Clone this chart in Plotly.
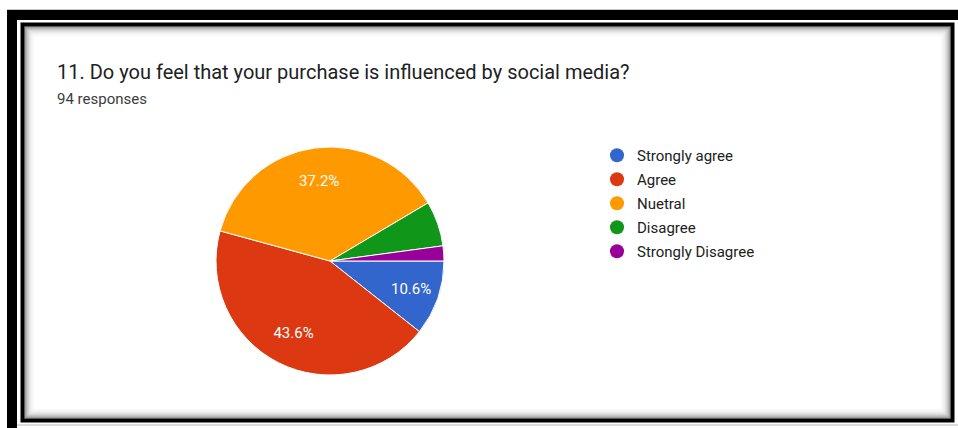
import plotly.graph_objects as go

# Survey answers (94 responses)
categories = ["Strongly agree", "Agree", "Nuetral", "Disagree", "Strongly Disagree"]
counts = [10, 41, 35, 6, 2]
colors = ["#3366cc", "#dc3912", "#ff9900", "#109618", "#990099"]
# only the larger slices carry a percentage label
label_templates = ["%{percent:.1%}", "%{percent:.1%}", "%{percent:.1%}", "", ""]

title_text = "11. Do you feel that your purchase is influenced by social media?"
subtitle_text = "94 responses"

W, H = 958, 428


def px(x):
    return x / W


def py(y):
    return 1 - y / H


pie_domain = dict(x=[px(216), px(444)], y=[py(375), py(147)])

fig = go.Figure()

# coloured slices
fig.add_trace(go.Pie(
    labels=categories,
    values=counts,
    sort=False,
    direction="clockwise",
    rotation=90,
    marker=dict(colors=colors, line=dict(color="white", width=1)),
    textinfo="none",
    hoverinfo="label+percent",
    showlegend=False,
    domain=pie_domain,
))

# transparent ring on top carrying the percentage labels further out
fig.add_trace(go.Pie(
    labels=categories,
    values=counts,
    sort=False,
    direction="clockwise",
    rotation=90,
    hole=0.42,
    marker=dict(colors=["rgba(0,0,0,0)"] * len(categories),
                line=dict(width=0)),
    texttemplate=label_templates,
    textposition="inside",
    insidetextorientation="horizontal",
    textfont=dict(family="Roboto", size=15, color="white"),
    hoverinfo="skip",
    showlegend=False,
    domain=pie_domain,
))

# circular legend markers, one entry per answer
for i, (name, col) in enumerate(zip(categories, colors)):
    fig.add_trace(go.Scatter(
        x=[None], y=[None], mode="markers", name=name,
        legendgroup=f"g{i}",
        marker=dict(symbol="circle", size=14, color=col),
        hoverinfo="skip",
    ))

shapes = []
# outer dark frame
shapes.append(dict(type="rect", xref="paper", yref="paper",
                   x0=px(7), x1=px(17), y0=py(428), y1=py(10),
                   fillcolor="black", line=dict(width=0), layer="above"))
shapes.append(dict(type="rect", xref="paper", yref="paper",
                   x0=px(7), x1=px(958), y0=py(20), y1=py(10),
                   fillcolor="black", line=dict(width=0), layer="above"))
shapes.append(dict(type="line", xref="paper", yref="paper",
                   x0=px(7), x1=px(958), y0=py(9.5), y1=py(9.5),
                   line=dict(color="#c8c8c8", width=1), layer="above"))
shapes.append(dict(type="line", xref="paper", yref="paper",
                   x0=px(17), x1=px(958), y0=py(425), y1=py(425),
                   line=dict(color="#b8b8b8", width=1), layer="above"))

# inner frame with a soft inset shadow
L, T, R, B = 22.5, 24.5, 952.5, 420.5
shade = ["#6e6e6e", "#8c8c8c", "#a6a6a6", "#bcbcbc", "#cecece",
         "#dcdcdc", "#e7e7e7", "#efefef", "#f5f5f5", "#fafafa"]
for k, c in enumerate(shade):
    o = 2.5 + k
    shapes.append(dict(type="rect", xref="paper", yref="paper",
                       x0=px(L + o), x1=px(R - o), y0=py(B - o), y1=py(T + o),
                       line=dict(color=c, width=1), layer="below"))
shapes.append(dict(type="rect", xref="paper", yref="paper",
                   x0=px(L), x1=px(R), y0=py(B), y1=py(T),
                   line=dict(color="black", width=4), layer="above"))

annotations = [
    dict(text=title_text, x=px(55), y=py(72), xref="paper", yref="paper",
         xanchor="left", yanchor="middle", showarrow=False,
         font=dict(family="Roboto", size=20, color="#202124")),
    dict(text=subtitle_text, x=px(55), y=py(99), xref="paper", yref="paper",
         xanchor="left", yanchor="middle", showarrow=False,
         font=dict(family="Roboto", size=15, color="#3c3c3c")),
]

fig.update_layout(
    width=W, height=H,
    margin=dict(l=0, r=0, t=0, b=0),
    paper_bgcolor="white",
    plot_bgcolor="white",
    xaxis=dict(visible=False),
    yaxis=dict(visible=False),
    shapes=shapes,
    annotations=annotations,
    showlegend=True,
    legend=dict(
        x=px(597), y=py(139), xanchor="left", yanchor="top",
        font=dict(family="Roboto", size=15, color="#212121"),
        tracegroupgap=1.5,
        itemsizing="trace",
        bgcolor="rgba(0,0,0,0)",
    ),
)

fig.write_html("out.html")
